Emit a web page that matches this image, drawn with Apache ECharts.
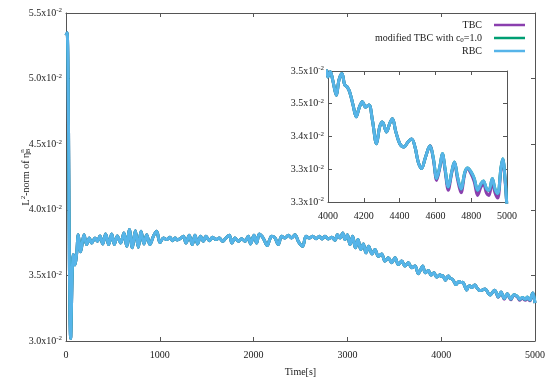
<!DOCTYPE html>
<html>
<head>
<meta charset="utf-8">
<script src="https://cdn.jsdelivr.net/npm/echarts@6/dist/echarts.min.js"></script>
<style>html,body{margin:0;padding:0;background:#fff;}#c{width:550px;height:384px;}</style>
</head>
<body>
<div id="c"></div>
<script>
// values in units of 1e-2
const rbcTime = [0,12,50,78,96,114,131,156,192,220,249,274,309,334,362,391,423,455,487,515,547,583,618,647,675,707,739,771,800,831,860,895,931,966,1002,1038,1073,1109,1135,1162,1188,1215,1251,1279,1314,1346,1375,1403,1435,1464,1492,1528,1563,1599,1634,1670,1705,1741,1769,1801,1837,1872,1908,1943,1968,2004,2032,2061,2089,2110,2146,2170,2192,2228,2263,2299,2334,2370,2405,2441,2476,2499,2523,2559,2594,2630,2666,2701,2730,2761,2797,2833,2868,2893,2921,2950,2975,3000,3028,3056,3085,3113,3142,3170,3198,3227,3262,3294,3330,3365,3401,3437,3472,3508,3543,3579,3614,3650,3685,3721,3756,3774,3802,3831,3863,3891,3923,3952,3987,
4000,4013,4028,4047,4061,4078,4093,4106,4121,4140,4158,4173,4192,4210,4229,4248,4271,4289,4304,4327,4345,4360,4379,4401,4424,4448,4467,4486,4504,4523,4542,4561,4570,4589,4607,4626,4639,4654,4672,4691,4706,4724,4743,4765,4780,4799,4817,4836,4855,4868,4886,4899,4918,4933,4948,4966,4976,4989,5000];
const rbcValue = [5.33,5.35,3.02,3.66,3.58,3.67,3.81,3.68,3.81,3.735,3.785,3.747,3.785,3.76,3.80,3.74,3.815,3.735,3.815,3.735,3.80,3.747,3.823,3.722,3.85,3.71,3.84,3.715,3.836,3.74,3.81,3.735,3.798,3.836,3.75,3.785,3.773,3.79,3.765,3.785,3.77,3.78,3.798,3.747,3.806,3.735,3.806,3.74,3.798,3.76,3.798,3.765,3.79,3.773,3.785,3.76,3.785,3.806,3.747,3.785,3.76,3.78,3.76,3.798,3.74,3.806,3.747,3.816,3.798,3.773,3.727,3.77,3.798,3.785,3.735,3.798,3.785,3.806,3.785,3.81,3.76,3.735,3.722,3.798,3.785,3.798,3.78,3.798,3.778,3.798,3.778,3.79,3.768,3.81,3.785,3.823,3.773,3.81,3.735,3.798,3.71,3.773,3.697,3.74,3.672,3.722,3.664,3.697,3.646,3.664,3.609,3.634,3.596,3.634,3.583,3.609,3.571,3.596,3.558,3.571,3.513,3.533,3.571,3.52,3.538,3.503,3.52,3.487,3.505,
3.491,3.499,3.484,3.463,3.486,3.496,3.479,3.476,3.468,3.448,3.430,3.443,3.453,3.445,3.448,3.425,3.389,3.415,3.422,3.407,3.420,3.427,3.407,3.389,3.384,3.392,3.396,3.384,3.361,3.351,3.366,3.382,3.386,3.366,3.336,3.356,3.374,3.351,3.323,3.346,3.361,3.338,3.320,3.346,3.352,3.346,3.336,3.318,3.328,3.332,3.320,3.318,3.336,3.320,3.313,3.352,3.366,3.336,3.29];
// TBC differs visibly only in the late part (lower troughs)
const tbcLateTime = [4589,4607,4626,4639,4654,4672,4691,4706,4724,4743,4765,4780,4799,4817,4836,4855,4868,4886,4899,4918,4933,4948,4966,4976,4989,5000];
const tbcLateValue = [3.364,3.333,3.354,3.373,3.348,3.318,3.344,3.360,3.334,3.314,3.344,3.351,3.343,3.331,3.310,3.323,3.328,3.313,3.310,3.331,3.314,3.306,3.349,3.365,3.333,3.29];
const seriesNames = ['TBC','modified TBC with c0=1.0','RBC'];
const seriesColors = ['#8a3fae','#009e73','#56b4e9'];
const mainXTicks = ['0','1000','2000','3000','4000','5000'];
const mainYTicks = ['3.0','3.5','4.0','4.5','5.0','5.5'];
const insetXTicks = ['4000','4200','4400','4600','4800','5000'];
const insetYTicks = ['3.3','3.3','3.4','3.5','3.5'];

const rbcData = rbcTime.map((t,i)=>[t, rbcValue[i]]);
const tbcData = rbcData.filter(p=>p[0] < tbcLateTime[0]).concat(tbcLateTime.map((t,i)=>[t, tbcLateValue[i]]));
const modData = rbcData;
const datas = [tbcData, modData, rbcData];

const FONT = 'Liberation Serif';
const txt = '#1a1a1a';
const axisCol = '#555';
const rich = {b:{fontFamily:FONT,fontSize:10,color:txt}, s:{fontFamily:FONT,fontSize:7,color:txt,verticalAlign:'top',padding:[0,0,5,0]}};
function sciFmt(arr){ return (v,i)=>'{b|'+arr[i]+'x10}{s|-2}'; }

function xAx(grid, min, max, interval, labels, show, pos){
  return {type:'value', gridIndex:grid, min:min, max:max, interval:interval, position:pos,
    axisLine:{show:true, onZero:false, lineStyle:{color:axisCol,width:1}},
    axisTick:{show:true, inside:true, length:4, lineStyle:{color:axisCol}},
    splitLine:{show:false},
    axisLabel:{show:show, margin:9, fontFamily:FONT, fontSize:10, color:txt,
      formatter:(v,i)=>labels[i]}};
}
function yAx(grid, min, max, interval, labels, show, pos){
  return {type:'value', gridIndex:grid, min:min, max:max, interval:interval, position:pos,
    axisLine:{show:true, onZero:false, lineStyle:{color:axisCol,width:1}},
    axisTick:{show:true, inside:true, length:4, lineStyle:{color:axisCol}},
    splitLine:{show:false},
    axisLabel:{show:show, margin:4, formatter:sciFmt(labels), rich:rich}};
}

const xMain = xAx(0,0,5000,1000,mainXTicks,true,'bottom');
xMain.name = 'Time[s]'; xMain.nameLocation='middle'; xMain.nameGap=26; xMain.nameMoveOverlap=false;
xMain.nameTextStyle = {fontFamily:FONT,fontSize:10,color:txt};
const yMain = yAx(0,3.0,5.5,0.5,mainYTicks,true,'left');
yMain.name = '{b|L}{s|2}{b|-norm of η}{u|n}{d|B}';
yMain.nameLocation='middle'; yMain.nameGap=33; yMain.nameMoveOverlap=false;
yMain.nameTextStyle = {rich:{b:{fontFamily:FONT,fontSize:10,color:txt}, s:{fontFamily:FONT,fontSize:7,color:txt,padding:[0,0,6,0]}, u:{fontFamily:FONT,fontSize:7,color:txt,padding:[0,0,7,0]}, d:{fontFamily:FONT,fontSize:7,color:txt,padding:[4,0,0,-4]}}};

const option = {
  animation:false,
  backgroundColor:'#fff',
  grid:[{left:66, top:13, right:15, bottom:43, containLabel:false, outerBoundsMode:'none'},
        {left:328, top:71, width:179, height:131, containLabel:false, outerBoundsMode:'none'}],
  xAxis:[xMain, xAx(0,0,5000,1000,mainXTicks,false,'top'),
         xAx(1,4000,5000,200,insetXTicks,true,'bottom'), xAx(1,4000,5000,200,insetXTicks,false,'top')],
  yAxis:[yMain, yAx(0,3.0,5.5,0.5,mainYTicks,false,'right'),
         yAx(1,3.30,3.50,0.05,insetYTicks,true,'left'), yAx(1,3.30,3.50,0.05,insetYTicks,false,'right')],
  legend:{orient:'vertical', right:25, top:19, padding:0, itemGap:1, itemWidth:31, itemHeight:2.5,
    align:'right', icon:'rect', data:seriesNames,
    formatter:(n)=> n.indexOf('c0')>=0 ? '{a|modified TBC with c}{s|0}{p|=1.0}' : '{p|'+n+'}',
    textStyle:{fontFamily:FONT,fontSize:10,color:txt,lineHeight:12,
      rich:{a:{fontFamily:FONT,fontSize:10,color:txt,lineHeight:12}, p:{fontFamily:FONT,fontSize:10,color:txt,lineHeight:12,padding:[0,7,0,0]}, s:{fontFamily:FONT,fontSize:7,color:txt,padding:[5,0,0,0]}}}},
  series: []
};
for (let k=0;k<3;k++){
  for (let g=0; g<2; g++){
    option.series.push({type:'line', name:seriesNames[k], xAxisIndex:g===0?0:2, yAxisIndex:g===0?0:2,
      data:datas[k], showSymbol:false, symbol:'none', smooth:0.35, clip:true,
      lineStyle:{color:seriesColors[k], width:3}, itemStyle:{color:seriesColors[k]}, z:2+k});
  }
}
const chart = echarts.init(document.getElementById('c'), null, {renderer:'canvas'});
chart.setOption(option);
</script>
</body>
</html>
